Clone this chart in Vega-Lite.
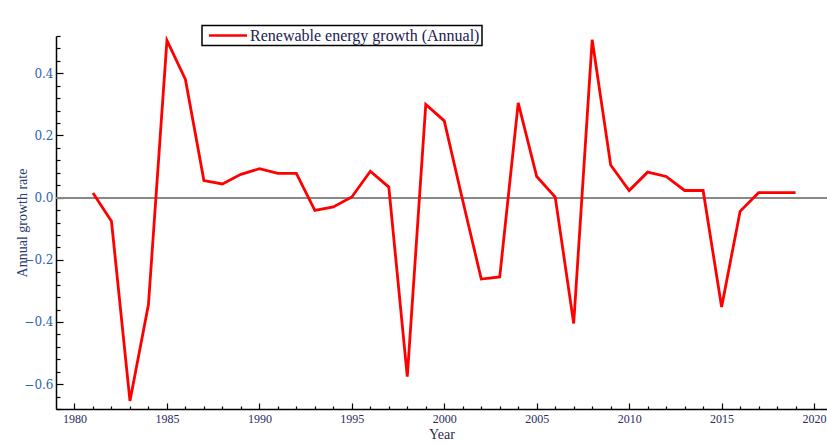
{
  "$schema": "https://vega.github.io/schema/vega-lite/v6.json",
  "width": 771,
  "height": 373,
  "autosize": {"type": "none"},
  "padding": {"left": 56, "top": 36, "right": 0, "bottom": 34},
  "background": "white",
  "config": {"view": {"stroke": null}},
  "data": {"values": [
    {"year": 1981, "growth": 0.015},
    {"year": 1982, "growth": -0.076},
    {"year": 1983, "growth": -0.654},
    {"year": 1984, "growth": -0.344},
    {"year": 1985, "growth": 0.506},
    {"year": 1986, "growth": 0.38},
    {"year": 1987, "growth": 0.055},
    {"year": 1988, "growth": 0.044},
    {"year": 1989, "growth": 0.075},
    {"year": 1990, "growth": 0.093},
    {"year": 1991, "growth": 0.078},
    {"year": 1992, "growth": 0.078},
    {"year": 1993, "growth": -0.041},
    {"year": 1994, "growth": -0.03},
    {"year": 1995, "growth": 0.002},
    {"year": 1996, "growth": 0.085},
    {"year": 1997, "growth": 0.034},
    {"year": 1998, "growth": -0.576},
    {"year": 1999, "growth": 0.3},
    {"year": 2000, "growth": 0.247},
    {"year": 2001, "growth": -0.01},
    {"year": 2002, "growth": -0.262},
    {"year": 2003, "growth": -0.255},
    {"year": 2004, "growth": 0.305},
    {"year": 2005, "growth": 0.068},
    {"year": 2006, "growth": 0.002},
    {"year": 2007, "growth": -0.405},
    {"year": 2008, "growth": 0.508},
    {"year": 2009, "growth": 0.105},
    {"year": 2010, "growth": 0.023},
    {"year": 2011, "growth": 0.082},
    {"year": 2012, "growth": 0.068},
    {"year": 2013, "growth": 0.023},
    {"year": 2014, "growth": 0.023},
    {"year": 2015, "growth": -0.352},
    {"year": 2016, "growth": -0.044},
    {"year": 2017, "growth": 0.016},
    {"year": 2018, "growth": 0.016},
    {"year": 2019, "growth": 0.016}
  ]},
  "layer": [
    {
      "mark": {"type": "rule", "color": "#888888", "strokeWidth": 1},
      "encoding": {"y": {"datum": 0, "type": "quantitative", "scale": {"domain": [-0.68, 0.52]}}}
    },
    {
      "mark": {"type": "line", "strokeWidth": 2.8, "clip": true},
      "encoding": {
        "x": {
          "field": "year",
          "type": "quantitative",
          "scale": {"domain": [1979, 2020.7], "nice": false, "zero": false},
          "axis": {
            "title": "Year",
            "titleFont": "Liberation Serif",
            "titleFontSize": 14,
            "titleFontWeight": "normal",
            "titleColor": "#2a2a4a",
            "titlePadding": 0,
            "tickCount": 500,
            "values": [1980,1981,1982,1983,1984,1985,1986,1987,1988,1989,1990,1991,1992,1993,1994,1995,1996,1997,1998,1999,2000,2001,2002,2003,2004,2005,2006,2007,2008,2009,2010,2011,2012,2013,2014,2015,2016,2017,2018,2019,2020],
            "labelExpr": "datum.value % 5 === 0 ? format(datum.value, 'd') : ''",
            "labelFont": "Liberation Serif",
            "labelFontSize": 12,
            "labelColor": "#2a2a60",
            "labelFlush": false,
            "labelOverlap": false,
            "labelPadding": 10,
            "tickSize": {"condition": {"test": "datum.value % 5 === 0", "value": -6}, "value": -3},
            "tickColor": "#000000",
            "tickWidth": 1.2,
            "domainColor": "#000000",
            "domainWidth": 1.5,
            "grid": false
          }
        },
        "y": {
          "field": "growth",
          "type": "quantitative",
          "scale": {"domain": [-0.68, 0.52], "nice": false, "zero": false},
          "axis": {
            "title": "Annual growth rate",
            "titleFont": "Liberation Serif",
            "titleFontSize": 14,
            "titleFontWeight": "normal",
            "titleColor": "#2a3a70",
            "titlePadding": -6,
            "tickCount": 500,
            "values": [-0.68,-0.64,-0.6,-0.56,-0.52,-0.48,-0.44,-0.4,-0.36,-0.32,-0.28,-0.24,-0.2,-0.16,-0.12,-0.08,-0.04,0,0.04,0.08,0.12,0.16,0.2,0.24,0.28,0.32,0.36,0.4,0.44,0.48,0.52],
            "labelExpr": "abs(datum.value/0.2 - round(datum.value/0.2)) < 0.001 ? format(datum.value, '.1f') : ''",
            "labelFont": "DejaVu Serif",
            "labelFontSize": 12,
            "labelColor": "#2b5fb0",
            "labelFlush": false,
            "labelOverlap": false,
            "labelPadding": 10,
            "tickSize": {"condition": {"test": "abs(datum.value/0.2 - round(datum.value/0.2)) < 0.001", "value": -7}, "value": -4},
            "tickColor": "#000000",
            "tickWidth": 1.2,
            "domainColor": "#000000",
            "domainWidth": 1.5,
            "grid": false
          }
        },
        "color": {
          "datum": "Renewable energy growth (Annual)",
          "type": "nominal",
          "scale": {"range": ["#ff0000"]},
          "legend": {
            "title": null,
            "orient": "none",
            "legendX": 146,
            "legendY": -10.5,
            "padding": 2,
            "strokeColor": "#000000",
            "fillColor": "#ffffff",
            "symbolType": "M-4,0H4",
            "symbolSize": 90.25,
            "symbolOffset": 16,
            "symbolStrokeWidth": 2.5,
            "symbolStrokeColor": "#ff0000",
            "symbolFillColor": "transparent",
            "labelFont": "Liberation Serif",
            "labelFontSize": 16,
            "labelColor": "#202050",
            "labelOffset": 14,
            "labelLimit": 400,
            "encode": {"legend": {"update": {"strokeWidth": {"value": 1.5}}}}
          }
        }
      }
    }
  ]
}
